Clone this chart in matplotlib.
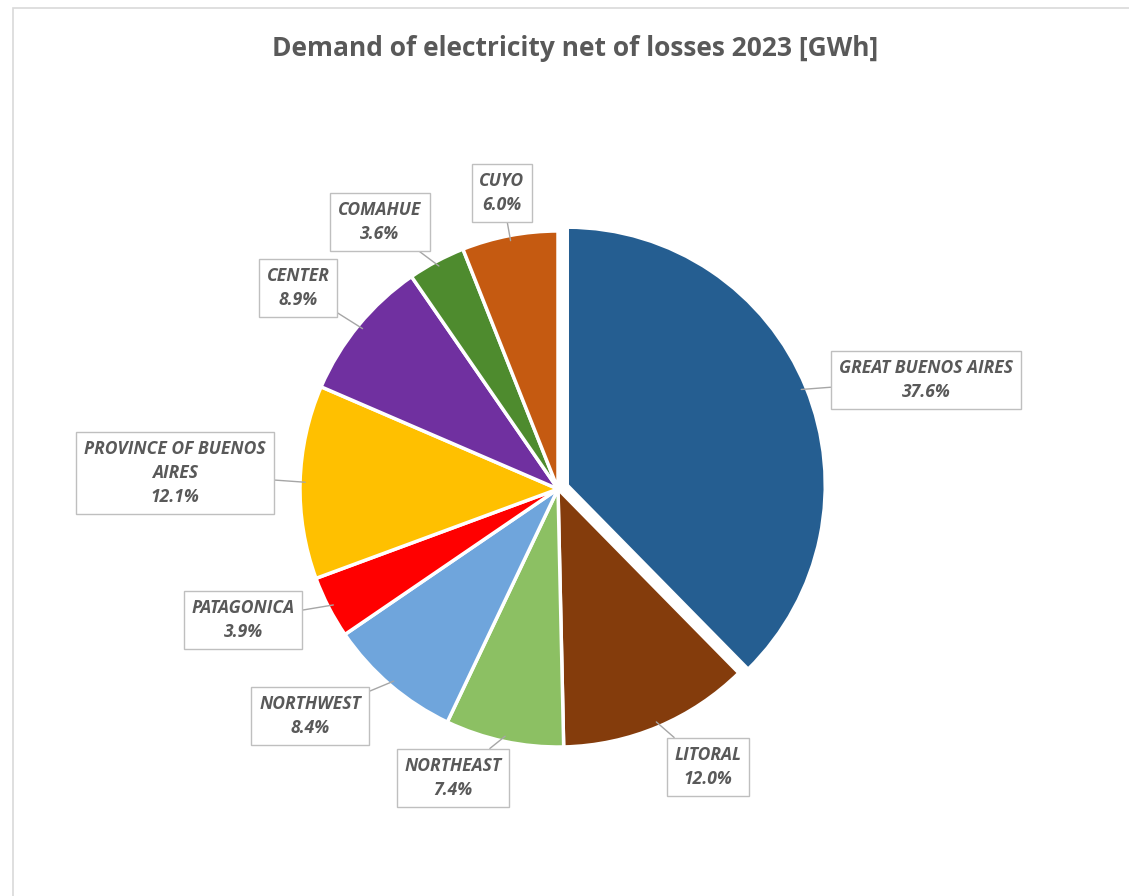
import matplotlib
matplotlib.use("Agg")
import matplotlib.pyplot as plt
from matplotlib.patches import Rectangle
import matplotlib.font_manager as fm
import numpy as np

regions = ["GREAT BUENOS AIRES", "LITORAL", "NORTHEAST", "NORTHWEST", "PATAGONICA",
           "PROVINCE OF BUENOS\nAIRES", "CENTER", "COMAHUE", "CUYO"]
shares = [37.6, 12.0, 7.4, 8.4, 3.9, 12.1, 8.9, 3.6, 6.0]
colors = ["#255E91", "#843C0C", "#8CC063", "#6FA5DC", "#FF0000",
          "#FFC000", "#7030A0", "#4E8B2E", "#C55A11"]
title = "Demand of electricity net of losses 2023 [GWh]"

names = {f.name for f in fm.fontManager.ttflist}
fam = [f for f in ["Open Sans", "DejaVu Sans"] if f in names]
plt.rcParams['font.family'] = fam

W, H = 1129, 896
fig = plt.figure(figsize=(W / 100, H / 100), dpi=100)
ax = fig.add_axes([0, 0, 1, 1])
ax.axis('off')

# outer chart border
fig.patches.append(Rectangle((13 / W, -0.1), 1.2, (H - 8) / H + 0.1, transform=fig.transFigure,
                             fill=False, edgecolor="#D9D9D9", linewidth=1.2))

cx, cy, r = 558, H - 489, 258
explode = [10] + [0] * (len(shares) - 1)
wedges, _ = ax.pie(shares, colors=colors, startangle=90, counterclock=False,
                   center=(cx, cy), radius=r, explode=explode,
                   wedgeprops=dict(edgecolor="white", linewidth=2.5))
ax.set_xlim(0, W)
ax.set_ylim(0, H)
ax.set_aspect('equal')

# label box centres (pixels from top-left)
label_pos = [(926, 380), (708, 767), (453, 778), (310, 716), (243, 620),
             (175, 473), (298, 288), (380, 222), (502, 193)]

for w, name, val, (lx, ly) in zip(wedges, regions, shares, label_pos):
    ang = np.deg2rad((w.theta1 + w.theta2) / 2)
    wx = w.center[0] + r * 0.98 * np.cos(ang)
    wy = w.center[1] + r * 0.98 * np.sin(ang)
    ax.annotate(f"{name}\n{val:.1f}%", xy=(wx, wy), xytext=(lx, H - ly),
                ha='center', va='center', fontsize=12.6, style='italic', fontweight='bold',
                color="#595959", linespacing=1.45,
                bbox=dict(boxstyle="square,pad=0.45", facecolor="white", edgecolor="#BFBFBF", linewidth=1),
                arrowprops=dict(arrowstyle='-', color="#A6A6A6", linewidth=1, shrinkA=0, shrinkB=0))

fig.text(575 / W, 1 - 48 / H, title, ha='center', va='center', fontsize=19,
         fontweight='bold', color="#595959")

fig.savefig("out.png", dpi=100)
